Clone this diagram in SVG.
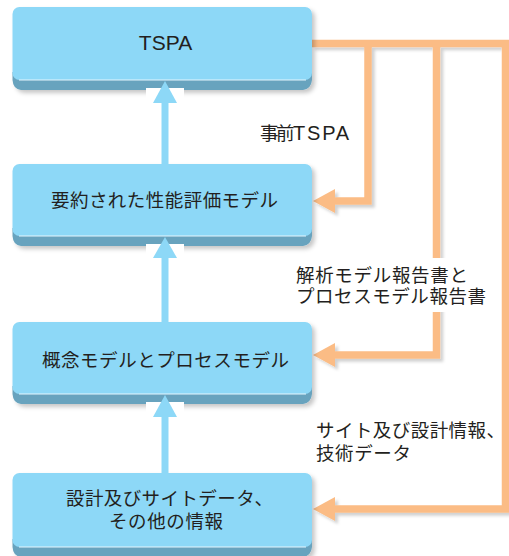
<svg xmlns="http://www.w3.org/2000/svg" width="509" height="556" viewBox="0 0 509 556">
<defs>
<filter id="sh" x="-10%" y="-10%" width="130%" height="130%">
<feDropShadow dx="3" dy="3" stdDeviation="2.2" flood-color="#000" flood-opacity="0.22"/>
</filter>
<filter id="shl" x="-10%" y="-10%" width="130%" height="130%">
<feDropShadow dx="3" dy="3" stdDeviation="1.8" flood-color="#000" flood-opacity="0.18"/>
</filter>
</defs>
<style>
.face{fill:#8DD8F7;}
.bevel{fill:#68A3BE;}
.hl{stroke:#E4F6FD;stroke-width:1;fill:none;}
.jp{font-family:"Noto Sans CJK JP","Noto Sans",sans-serif;font-size:18.5px;fill:#231F20;}
.lat{font-family:"Liberation Sans",Arial,sans-serif;fill:#231F20;}
.or{fill:none;stroke:#FBBC85;stroke-width:7.5;stroke-linejoin:miter;}
.orh{fill:#FBBC85;}
.bl{fill:none;stroke:#8DD8F7;stroke-width:7;}
.blh{fill:#8DD8F7;}
</style>

<g id="connectors">
<g filter="url(#shl)">
<path class="or" d="M312,43.5 H505.5 V509 H332"/>
<path class="or" d="M368,43.5 V201 H332"/>
<path class="or" d="M436.5,43.5 V355 H332"/>
<polygon class="orh" points="313,201 335,189 335,213"/>
<polygon class="orh" points="313,355 335,343 335,367"/>
<polygon class="orh" points="313,509 335,497 335,521"/>
</g>
</g>

<g id="box1">
<g filter="url(#sh)">
<path class="bevel" d="M12.5,72 V80 Q13,89 21,90 H303 Q311,89 312,80 V72 Z"/>
<rect class="face" x="12.5" y="7" width="299.5" height="73" rx="7"/>
</g>
<line class="hl" x1="19" y1="80" x2="306" y2="80"/>
<text class="lat" x="165.5" y="50" font-size="21" text-anchor="middle">TSPA</text>
</g>

<g id="box2">
<g filter="url(#sh)">
<path class="bevel" d="M12.5,228 V236 Q13,245 21,246 H303 Q311,245 312,236 V228 Z"/>
<rect class="face" x="12.5" y="164" width="299.5" height="72" rx="7"/>
</g>
<line class="hl" x1="19" y1="236" x2="306" y2="236"/>
<text class="jp" x="51" y="206.5" textLength="227" lengthAdjust="spacing">要約された性能評価モデル</text>
</g>

<g id="box3">
<g filter="url(#sh)">
<path class="bevel" d="M12.5,386 V394 Q13,403 21,404 H303 Q311,403 312,394 V386 Z"/>
<rect class="face" x="12.5" y="322" width="299.5" height="72" rx="7"/>
</g>
<line class="hl" x1="19" y1="394" x2="306" y2="394"/>
<text class="jp" x="42" y="366.5" textLength="247" lengthAdjust="spacing">概念モデルとプロセスモデル</text>
</g>

<g id="box4">
<g filter="url(#sh)">
<path class="bevel" d="M12.5,539 V547 Q13,556 21,557 H303 Q311,556 312,547 V539 Z"/>
<rect class="face" x="12.5" y="473" width="299.5" height="74" rx="7"/>
</g>
<line class="hl" x1="19" y1="547" x2="306" y2="547"/>
<text class="jp" x="66" y="505" textLength="207" lengthAdjust="spacing">設計及びサイトデータ、</text>
<text class="jp" x="109" y="528" textLength="114" lengthAdjust="spacing">その他の情報</text>
</g>

<g id="up-arrows">
<rect x="146" y="88" width="38" height="14" fill="#fff"/>
<rect x="146" y="244" width="38" height="14" fill="#fff"/>
<rect x="146" y="402" width="38" height="14" fill="#fff"/>
<path class="bl" d="M165,164 V100"/>
<polygon class="blh" points="165,81 177,103 153,103"/>
<path class="bl" d="M165,322 V255"/>
<polygon class="blh" points="165,237 177,258 153,258"/>
<path class="bl" d="M165,473 V414"/>
<polygon class="blh" points="165,395 177,417 153,417"/>
</g>

<g id="labels">
<text x="260" y="140"><tspan class="jp" font-size="17" letter-spacing="-2.5">事前</tspan><tspan class="lat" x="293" font-size="20" letter-spacing="1.8">TSPA</tspan></text>
<rect x="294" y="258" width="196" height="54" fill="#fff"/>
<text class="jp" x="296" y="281.5" textLength="172" lengthAdjust="spacing">解析モデル報告書と</text>
<text class="jp" x="296" y="303" textLength="190" lengthAdjust="spacing">プロセスモデル報告書</text>
<text class="jp" x="316" y="436.5" textLength="189" lengthAdjust="spacing">サイト及び設計情報、</text>
<text class="jp" x="316" y="460" textLength="95" lengthAdjust="spacing">技術データ</text>
</g>
</svg>
